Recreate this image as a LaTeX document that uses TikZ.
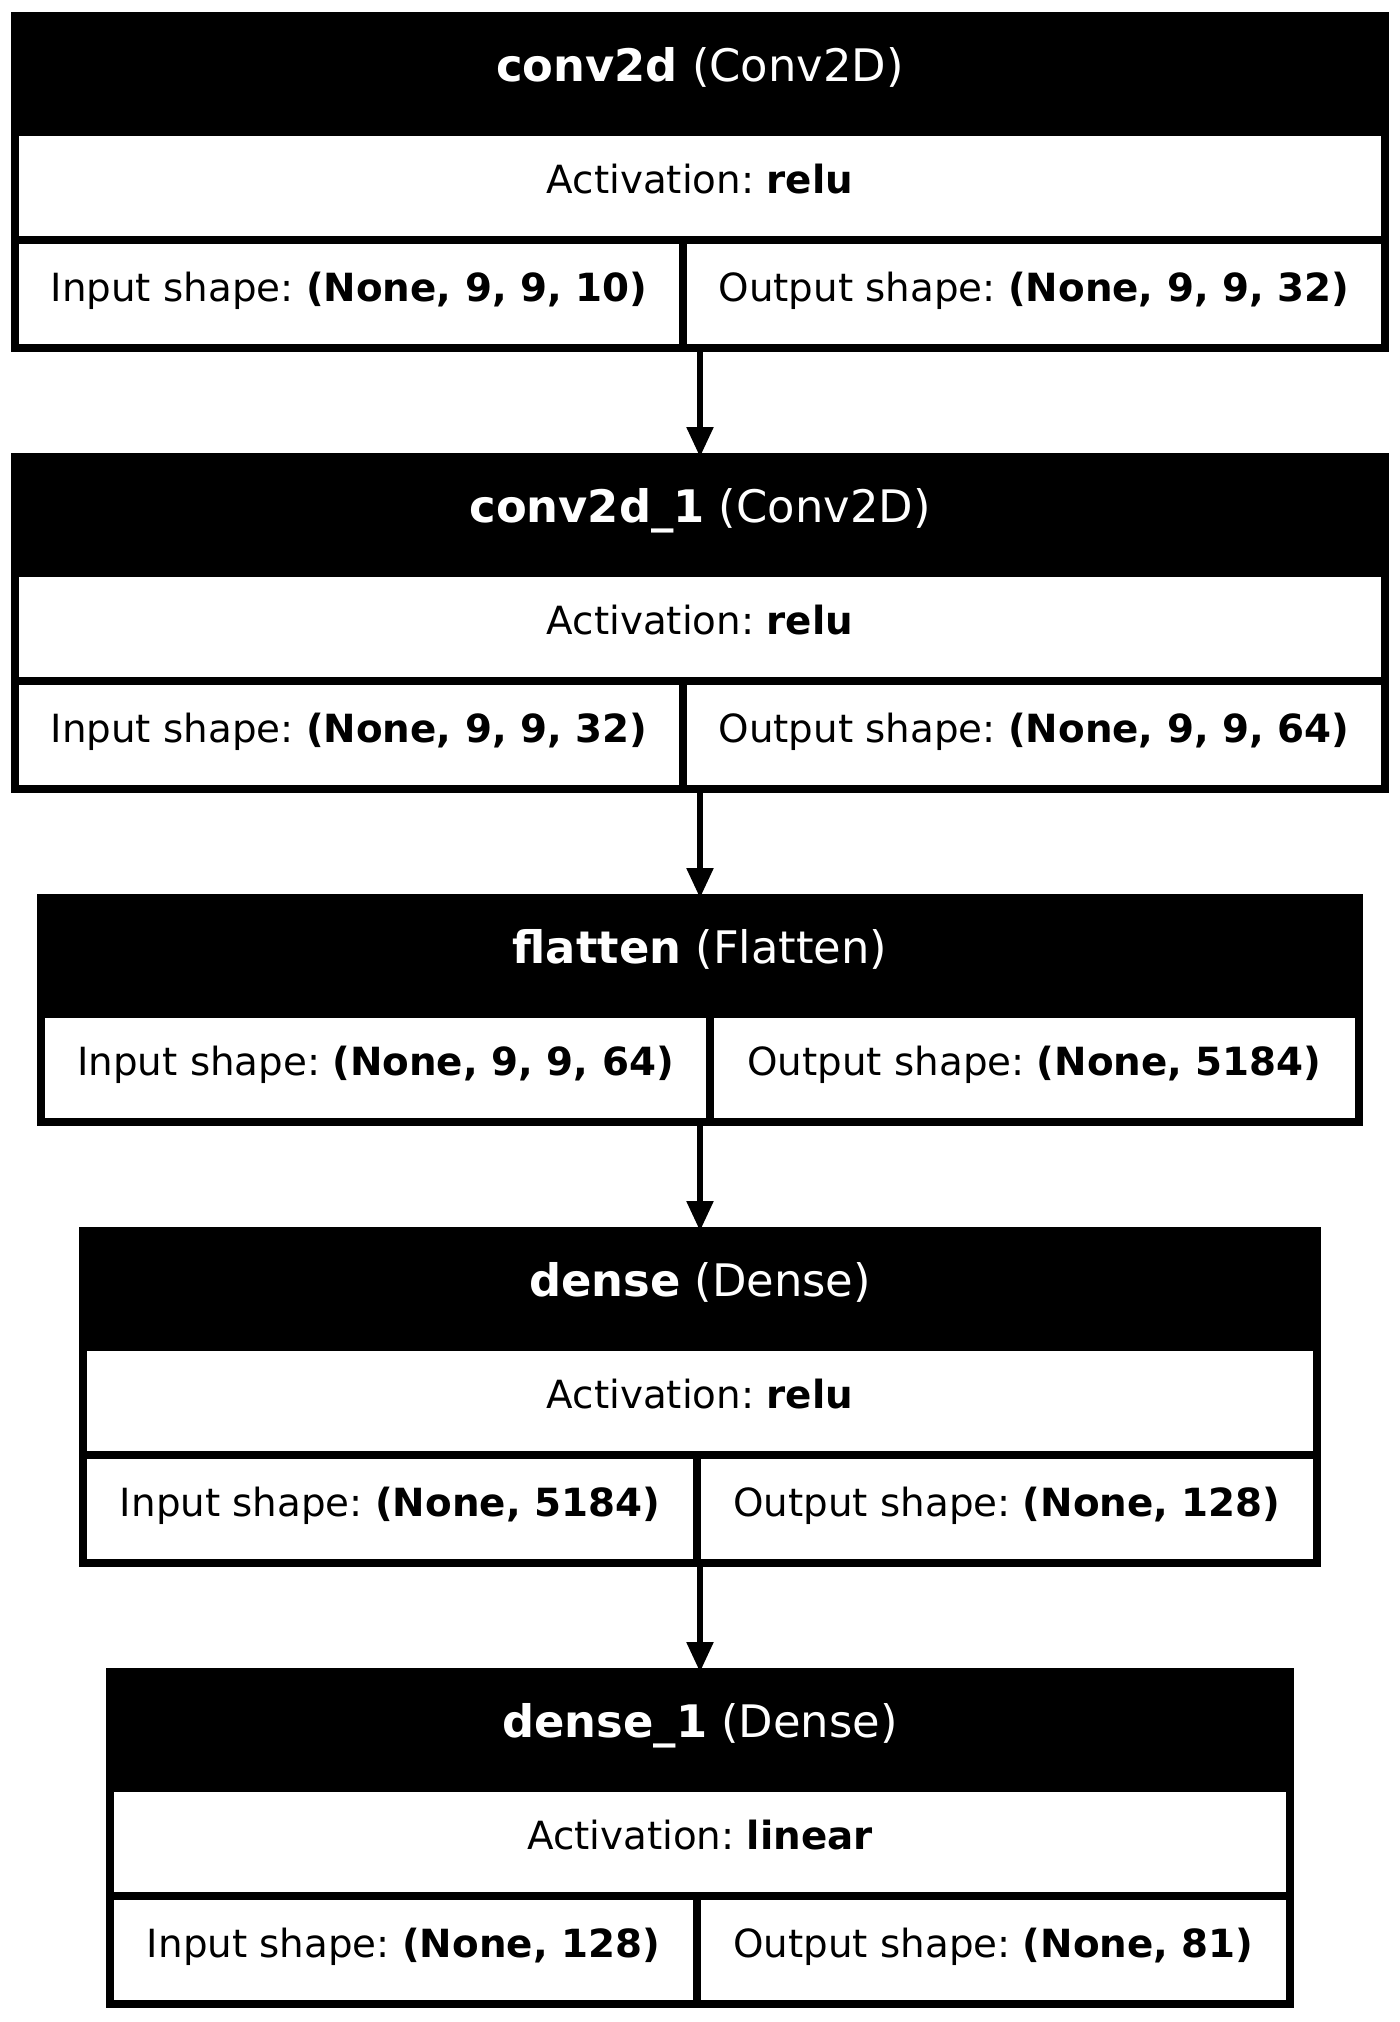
\documentclass[tikz,border=0pt]{standalone}
\usepackage{fontspec}
\setmainfont{DejaVu Sans}
\frenchspacing
\usetikzlibrary{arrows.meta, positioning}
\tikzset{
  head/.style={rectangle, draw=black, fill=black, text=white, line width=4pt, outer sep=0pt, inner sep=0pt, minimum height=58pt, text height=0.75em, text depth=0pt, font=\fontsize{22.4pt}{27pt}\selectfont},
  cell/.style={rectangle, draw=black, fill=white, line width=4pt, outer sep=0pt, inner sep=0pt, minimum height=54pt, text height=0.75em, text depth=0pt},
  arrow/.style={line width=2.75pt, -{Triangle[width=13pt, length=15pt]}}
}
\begin{document}
\begin{tikzpicture}[font=\fontsize{19.4pt}{23pt}\selectfont]
  \useasboundingbox (-350pt,37pt) rectangle (350pt,-974pt);

  % conv2d
  \node (c1h) [head, minimum width=685pt] at (0,0) {\textbf{conv2d} (Conv2D)};
  \node (c1a) [cell, below=0pt of c1h, minimum width=685pt] {Activation: \textbf{relu}};
  \node (c1i) [cell, anchor=north west, minimum width=334pt] at (c1a.south west) {Input shape: \textbf{(None, 9, 9, 10)}};
  \node (c1o) [cell, right=0pt of c1i, minimum width=351pt] {Output shape: \textbf{(None, 9, 9, 32)}};
  \coordinate (c1b) at (c1h |- c1i.south);

  % conv2d_1
  \node (c2h) [head, below=54.5pt of c1b, minimum width=685pt] {\textbf{conv2d\_1} (Conv2D)};
  \node (c2a) [cell, below=0pt of c2h, minimum width=685pt] {Activation: \textbf{relu}};
  \node (c2i) [cell, anchor=north west, minimum width=334pt] at (c2a.south west) {Input shape: \textbf{(None, 9, 9, 32)}};
  \node (c2o) [cell, right=0pt of c2i, minimum width=351pt] {Output shape: \textbf{(None, 9, 9, 64)}};
  \coordinate (c2b) at (c2h |- c2i.south);

  % flatten
  \node (fh) [head, below=54.5pt of c2b, minimum width=659pt] {\textbf{flatten} (Flatten)};
  \node (fi) [cell, anchor=north west, minimum width=334.5pt] at (fh.south west) {Input shape: \textbf{(None, 9, 9, 64)}};
  \node (fo) [cell, right=0pt of fi, minimum width=324.5pt] {Output shape: \textbf{(None, 5184)}};
  \coordinate (fb) at (fh |- fi.south);

  % dense
  \node (d1h) [head, below=54.5pt of fb, minimum width=617pt] {\textbf{dense} (Dense)};
  \node (d1a) [cell, below=0pt of d1h, minimum width=617pt] {Activation: \textbf{relu}};
  \node (d1i) [cell, anchor=north west, minimum width=307pt] at (d1a.south west) {Input shape: \textbf{(None, 5184)}};
  \node (d1o) [cell, right=0pt of d1i, minimum width=310pt] {Output shape: \textbf{(None, 128)}};
  \coordinate (d1b) at (d1h |- d1i.south);

  % dense_1
  \node (d2h) [head, below=54.5pt of d1b, minimum width=590pt] {\textbf{dense\_1} (Dense)};
  \node (d2a) [cell, below=0pt of d2h, minimum width=590pt] {Activation: \textbf{linear}};
  \node (d2i) [cell, anchor=north west, minimum width=293.5pt] at (d2a.south west) {Input shape: \textbf{(None, 128)}};
  \node (d2o) [cell, right=0pt of d2i, minimum width=296.5pt] {Output shape: \textbf{(None, 81)}};

  \draw [arrow] (c1b) -- (c2h);
  \draw [arrow] (c2b) -- (fh);
  \draw [arrow] (fb) -- (d1h);
  \draw [arrow] (d1b) -- (d2h);

\end{tikzpicture}
\end{document}
